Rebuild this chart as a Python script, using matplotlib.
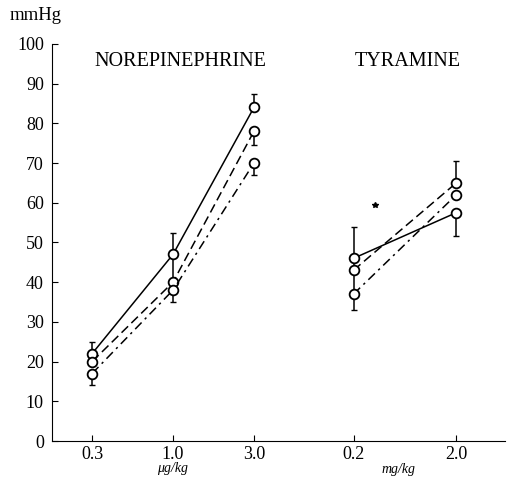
import matplotlib
matplotlib.use("Agg")
import matplotlib.pyplot as plt
import numpy as np

plt.rcParams['font.family'] = ['Liberation Serif', 'DejaVu Serif']

# doses (tick labels) and blood pressure rise in mmHg
dose_labels = ['0.3', '1.0', '3.0', '0.2', '2.0']
nor_doses = ['0.3', '1.0', '3.0']
tyr_doses = ['0.2', '2.0']

solid_nor = [22, 47, 84]
dashed_nor = [20, 40, 78]
dashdot_nor = [17, 38, 70]
solid_tyr = [46, 57.5]
dashed_tyr = [43, 65]
dashdot_tyr = [37, 62]

# one-sided error bars (lower, upper), 0 = none drawn
solid_nor_err = [[0, 6.5, 0], [3, 5.5, 3.5]]
dashed_nor_err = [[0, 0, 3.5], [0, 0, 0]]
dashdot_nor_err = [[3, 3, 3], [0, 0, 0]]
solid_tyr_err = [[3, 6], [8, 0]]
dashed_tyr_err = [[6, 0], [0, 5.5]]
dashdot_tyr_err = [[4, 0], [0, 0]]

star_dose, star_val = 4.5, 59.5

# x placement of the dose categories
xpos = dict(zip(dose_labels, [1, 2, 3, 4.23, 5.5]))

fig = plt.figure(figsize=(5.11, 4.82), dpi=100)
ax = fig.add_axes([0.102, 0.085, 0.886, 0.824])

styles = {'solid': '-', 'dashed': (0, (6, 3)), 'dashdot': (0, (6, 3, 1.5, 3))}

groups = [
    (nor_doses, solid_nor, solid_nor_err, 'solid'),
    (nor_doses, dashed_nor, dashed_nor_err, 'dashed'),
    (nor_doses, dashdot_nor, dashdot_nor_err, 'dashdot'),
    (tyr_doses, solid_tyr, solid_tyr_err, 'solid'),
    (tyr_doses, dashed_tyr, dashed_tyr_err, 'dashed'),
    (tyr_doses, dashdot_tyr, dashdot_tyr_err, 'dashdot'),
]

for doses, vals, err, st in groups:
    xs = [xpos[d] for d in doses]
    for x, v, lo, hi in zip(xs, vals, err[0], err[1]):
        if lo > 0:
            ax.errorbar([x], [v], yerr=[[lo], [0]], fmt='none', ecolor='black',
                        elinewidth=1.1, capsize=2.5, zorder=2)
        if hi > 0:
            ax.errorbar([x], [v], yerr=[[0], [hi]], fmt='none', ecolor='black',
                        elinewidth=1.1, capsize=2.5, zorder=2)
    ax.plot(xs, vals, color='black', linestyle=styles[st], linewidth=1.1,
            marker='o', markersize=7, markerfacecolor='white',
            markeredgecolor='black', markeredgewidth=1.3, zorder=3)

ax.plot([star_dose], [star_val], marker='*', color='black', markersize=4)

ax.set_xlim(0.506, 6.1)
ax.set_ylim(0, 100)
ax.set_xticks([xpos[d] for d in dose_labels])
ax.set_xticklabels(dose_labels)
ax.set_yticks(np.arange(0, 101, 10))
ax.spines['top'].set_visible(False)
ax.spines['right'].set_visible(False)
ax.tick_params(direction='in', length=4, labelsize=13, colors='black')
ax.tick_params(axis='y', pad=6)

ax.text(2.09, 95.5, 'NOREPINEPHRINE', ha='center', va='center', fontsize=14.5)
ax.text(4.9, 95.5, 'TYRAMINE', ha='center', va='center', fontsize=14.5)
fig.text(0.07, 0.968, 'mmHg', ha='center', va='center', fontsize=13.5)
fig.text(0.338, 0.028, 'μg/kg', ha='center', va='center', fontsize=10, style='italic')
fig.text(0.779, 0.025, 'mg/kg', ha='center', va='center', fontsize=10, style='italic')

fig.savefig('out.png', dpi=100)
